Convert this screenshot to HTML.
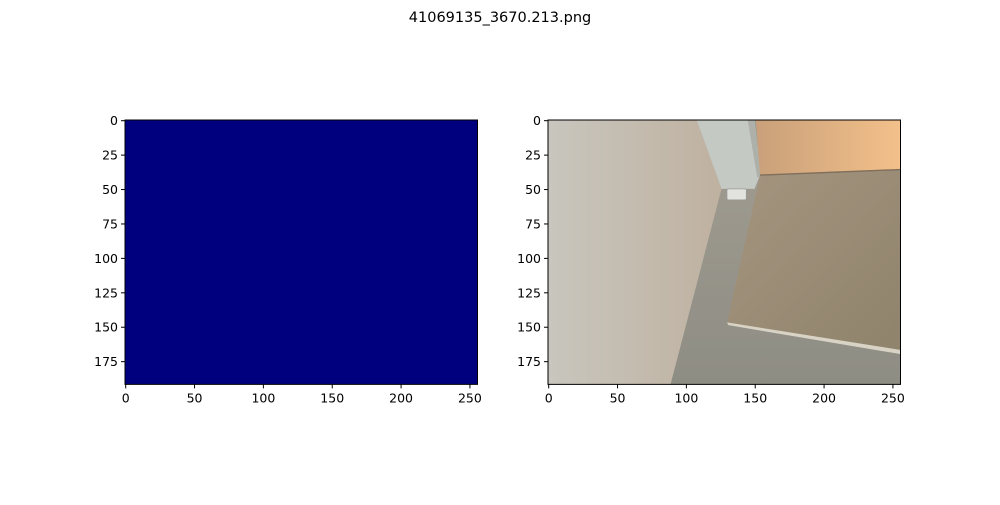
<!DOCTYPE html>
<html><head><meta charset="utf-8"><style>
body{margin:0;background:#fff;width:1000px;height:500px;overflow:hidden;font-family:"Liberation Sans","DejaVu Sans",sans-serif}
</style></head><body>
<svg id="fig" width="1000" height="500" xmlns="http://www.w3.org/2000/svg">
<rect width="1000" height="500" fill="#fff"/>
<text x="500" y="22" text-anchor="middle" font-size="14.5" font-family="DejaVu Sans, sans-serif">41069135_3670.213.png</text>
<defs>
<linearGradient id="wallg" x1="0" y1="0" x2="1" y2="0"><stop offset="0" stop-color="#c8c6be"/><stop offset="1" stop-color="#bfb1a0"/></linearGradient>
<linearGradient id="ceilg" x1="0" y1="0" x2="1" y2="0"><stop offset="0" stop-color="#c9a07a"/><stop offset="1" stop-color="#f3c08a"/></linearGradient>
<linearGradient id="panelg" x1="0" y1="0" x2="1" y2="1"><stop offset="0" stop-color="#a59580"/><stop offset="1" stop-color="#8f836b"/></linearGradient>
<linearGradient id="floorg" x1="0" y1="0" x2="0" y2="1"><stop offset="0" stop-color="#a29d92"/><stop offset="1" stop-color="#8e8d84"/></linearGradient>
<clipPath id="rclip"><rect x="0" y="0" width="256" height="192"/></clipPath>
</defs>
<g id="left"></g>
<g id="right"></g>
</svg>
<script>
const imgW = 256, imgH = 192;
const xTicks = [0, 50, 100, 150, 200, 250];
const yTicks = [0, 25, 50, 75, 100, 125, 150, 175];
const panels = [{id:'left', x0:125, name:'mask'}, {id:'right', x0:548, name:'photo'}];
const top0 = 120, scale = 352.5/256;
const NS = 'http://www.w3.org/2000/svg';
function mk(tag, attrs, parent){const e=document.createElementNS(NS,tag);for(const k in attrs)e.setAttribute(k,attrs[k]);parent.appendChild(e);return e;}
panels.forEach(p=>{
  const g=document.getElementById(p.id);
  const W=imgW*scale,H=imgH*scale;
  const im=mk('g',{transform:`translate(${p.x0},${top0}) scale(${scale})`},g);
  
  
  if(p.id==='left'){
    mk('rect',{x:0,y:0,width:imgW,height:imgH,fill:'#00007f'},im);
  } else {
    const c=mk('g',{'clip-path':'url(#rclip)'},im);
    mk('rect',{x:0,y:0,width:256,height:192,fill:'url(#floorg)'},c);
    mk('polygon',{points:'0,0 108,0 126,50 89,192 0,192',fill:'url(#wallg)'},c);
    mk('polygon',{points:'108,0 150,0 154,40 150,50 126,50',fill:'#c5c9c4'},c);
    mk('polygon',{points:'145,0 150,0 155,40 152,42',fill:'#aeb0aa'},c);
    mk('polygon',{points:'151,0 256,0 256,36 154,40',fill:'url(#ceilg)'},c);
    mk('polygon',{points:'154,40 256,36 256,167 130,147',fill:'url(#panelg)'},c);
    mk('polygon',{points:'130,147 256,167 256,170 131,149',fill:'#d8d3c4'},c);
    mk('polygon',{points:'154,39.5 256,35.5 256,36.5 154,40.5',fill:'#7e6e5a'},c);
    mk('rect',{x:130,y:50,width:14,height:8,rx:1,fill:'#e2e2de',stroke:'#999',
      'stroke-width':0.5},c);
  }
  mk('rect',{x:p.x0,y:top0,width:W,height:H,fill:'none',stroke:'#000','stroke-width':1},g);
  xTicks.forEach(v=>{
    const x=p.x0+(v+0.5)*scale;
    mk('line',{x1:x,x2:x,y1:top0+H,y2:top0+H+4,stroke:'#000'},g);
    const t=mk('text',{x:x,y:top0+H+18,'text-anchor':'middle','font-size':12.5,'font-family':'DejaVu Sans, sans-serif'},g);
    t.textContent=v;
    
    
  });
  yTicks.forEach(v=>{
    const y=top0+(v+0.5)*scale;
    mk('line',{x1:p.x0-4,x2:p.x0,y1:y,y2:y,stroke:'#000'},g);
    const t=mk('text',{x:p.x0-7,y:y+4.5,'text-anchor':'end','font-size':12.5,'font-family':'DejaVu Sans, sans-serif'},g);
    t.textContent=v;
    
    
  });
});
</script>
</body></html>
